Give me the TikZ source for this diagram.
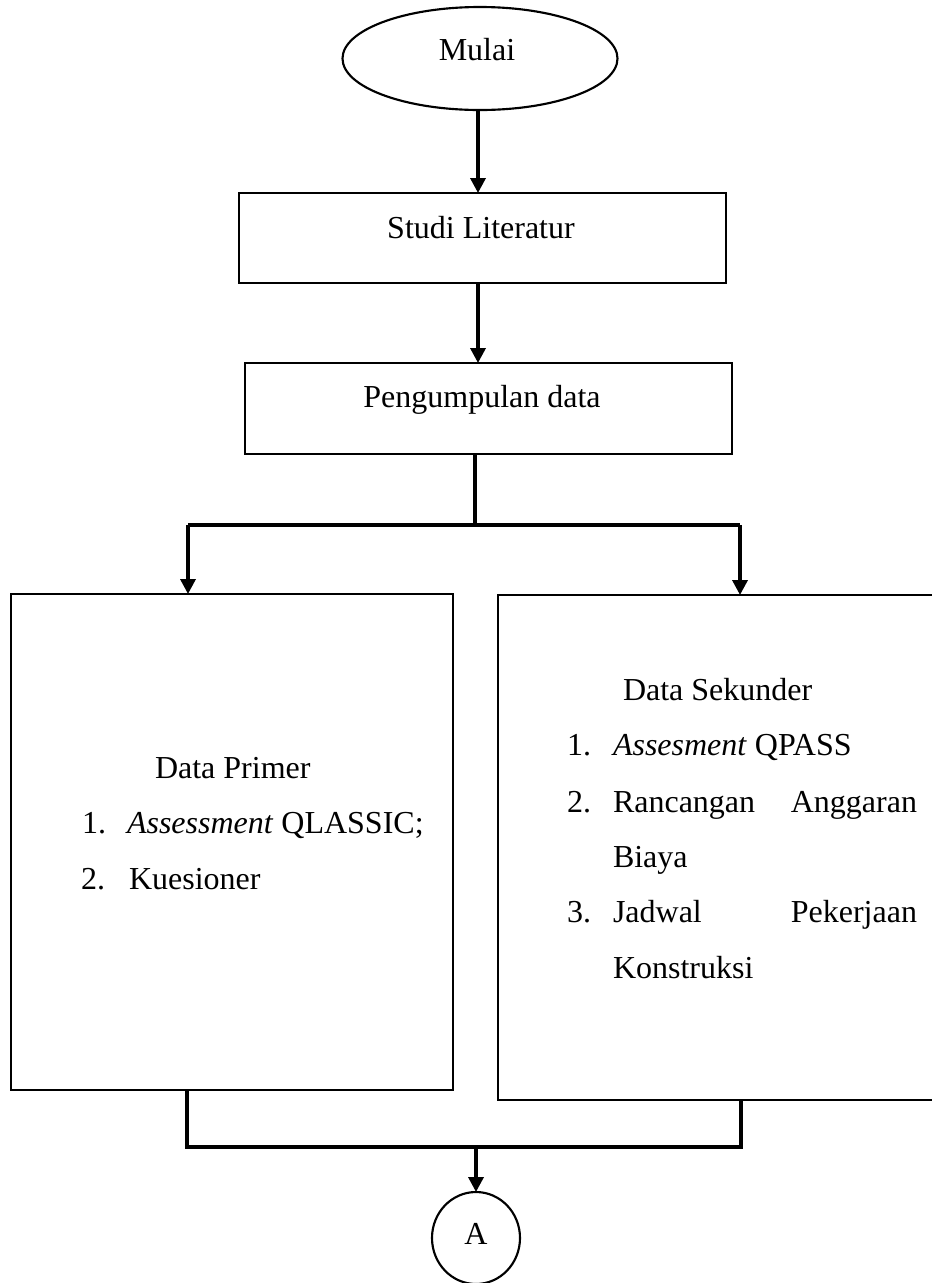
\documentclass[tikz,border=0pt]{standalone}
\usepackage{fontspec}
\setmainfont{Liberation Serif}
\usetikzlibrary{arrows.meta,shapes.geometric}
\begin{document}
\begin{tikzpicture}[x=0.375pt,y=-0.375pt,
  every node/.style={font=\fontsize{12pt}{14pt}\selectfont},
  boxnode/.style={draw,line width=0.8pt,rectangle,inner sep=0pt,outer sep=0pt},
  ovalnode/.style={draw,line width=0.8pt,ellipse,inner sep=0pt,outer sep=0pt},
  txt/.style={inner sep=0pt,outer sep=0pt},
  link/.style={line width=1.3pt},
  flow/.style={line width=1.3pt,-{Triangle[length=5.6pt,width=5.6pt]}}]
\useasboundingbox (0,0) rectangle (932,1283);

% shapes
\node[ovalnode,minimum width=103.125pt,minimum height=38.625pt] (mulai) at (480,58.5) {};
\node[boxnode,minimum width=182.625pt,minimum height=33.75pt] (studi) at (482.5,238) {};
\node[boxnode,minimum width=182.625pt,minimum height=34.125pt] (kumpul) at (488.5,408.5) {};
\node[boxnode,minimum width=165.75pt,minimum height=186pt] (primer) at (232,842) {};
\node[boxnode,minimum width=169.5pt,minimum height=189.375pt] (sekunder) at (724,847.5) {};
\node[ovalnode,minimum width=33pt,minimum height=34.5pt] (konektor) at (476,1238) {};

% labels
\node[txt,anchor=base] (tmulai) at (477,60) {Mulai};
\node[txt,anchor=base] (tstudi) at (481,238) {Studi Literatur};
\node[txt,anchor=base] (tkumpul) at (482,407) {Pengumpulan data};

\node[txt,anchor=base west] (tprimer) at (155,778) {Data Primer};
\node[txt,anchor=base west] (p1n) at (82,833) {1.};
\node[txt,anchor=base west] (p1) at (127,833) {\textit{Assessment} QLASSIC;};
\node[txt,anchor=base west] (p2n) at (81,889) {2.};
\node[txt,anchor=base west] (p2) at (129,889) {Kuesioner};

\node[txt,anchor=base west] (tsekunder) at (623,700) {Data Sekunder};
\node[txt,anchor=base west] (s1n) at (567,755) {1.};
\node[txt,anchor=base west] (s1) at (613,755) {\textit{Assesment} QPASS};
\node[txt,anchor=base west] (s2n) at (567,812) {2.};
\node[txt,anchor=base west] (s2a) at (613,812) {Rancangan};
\node[txt,anchor=base east] (s2b) at (917,812) {Anggaran};
\node[txt,anchor=base west] (s2c) at (613,867) {Biaya};
\node[txt,anchor=base west] (s3n) at (567,922) {3.};
\node[txt,anchor=base west] (s3a) at (613,922) {Jadwal};
\node[txt,anchor=base east] (s3b) at (917,922) {Pekerjaan};
\node[txt,anchor=base west] (s3c) at (613,978) {Konstruksi};

\node[txt,anchor=base] (tA) at (476,1244) {A};

% connector bends
\coordinate (pecah) at (475,525);
\coordinate (kiri) at (188,525);
\coordinate (kanan) at (740,525);
\coordinate (gabung) at (476,1147);
\coordinate (bkiri) at (187,1147);
\coordinate (bkanan) at (741,1147);

% connectors
\draw[flow] (mulai.south -| 478,0) -- (478,0 |- studi.north);
\draw[flow] (studi.south -| 478,0) -- (478,0 |- kumpul.north);
\draw[link] (kumpul.south -| pecah) -- (pecah);
\draw[link] (kiri) -- (kanan);
\draw[flow] (kiri) -- (kiri |- primer.north);
\draw[flow] (kanan) -- (kanan |- sekunder.north);
\draw[link] (bkiri |- primer.south) -- (bkiri) -- (bkanan) -- (bkanan |- sekunder.south);
\draw[flow] (gabung) -- (gabung |- konektor.north);
\end{tikzpicture}
\end{document}
